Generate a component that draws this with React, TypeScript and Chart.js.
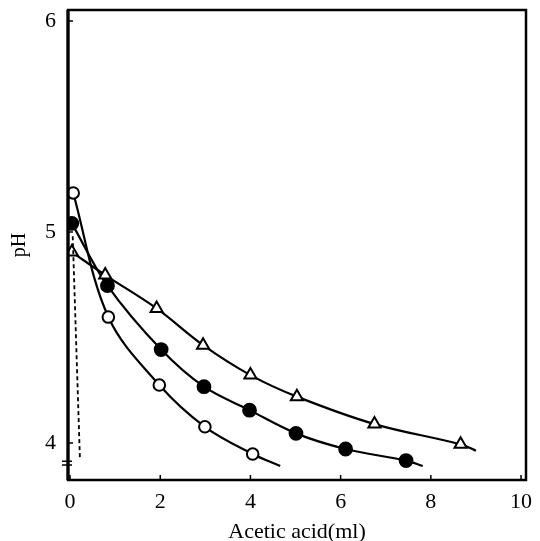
import React, { useEffect, useRef } from "react";
import { Chart, registerables } from "chart.js";

Chart.register(...registerables);

// Open circles
const openX = [0.07, 0.85, 1.98, 2.99, 4.05];
const openPH = [5.185, 4.597, 4.275, 4.077, 3.948];
const openTail = [4.66, 3.891];

// Filled circles
const filledX = [0.04, 0.83, 2.02, 2.97, 3.98, 5.01, 6.11, 7.45];
const filledPH = [5.041, 4.746, 4.443, 4.267, 4.156, 4.046, 3.972, 3.917];
const filledTail = [7.82, 3.891];

// Triangles
const triX = [0.04, 0.78, 1.92, 2.95, 4.0, 5.03, 6.75, 8.66];
const triPH = [4.905, 4.796, 4.638, 4.464, 4.322, 4.22, 4.09, 3.994];
const triTail = [9.0, 3.964];

// Dashed line
const dashX = [0.06, 0.22];
const dashPH = [4.98, 3.92];

const xTicks = [0, 2, 4, 6, 8, 10];
const yTicks = [4, 5, 6];
const BREAK_AT = 3.905;

const FONT = "'Liberation Serif', 'DejaVu Serif', serif";

function series(xs: number[], ys: number[], tail: number[] | null) {
  const pts = xs.map((x, i) => ({ x, y: ys[i] }));
  if (tail) pts.push({ x: tail[0], y: tail[1] });
  return pts;
}

function radii(n: number, r: number, withTail: boolean) {
  const a = new Array(n).fill(r);
  if (withTail) a.push(0);
  return a;
}

const framePlugin = {
  id: "frame",
  afterDraw(chart: any) {
    const { ctx, chartArea: a, scales } = chart;
    ctx.save();
    ctx.strokeStyle = "#000";
    // inward ticks
    ctx.lineWidth = 1.5;
    ctx.beginPath();
    xTicks.forEach((v) => {
      const px = scales.x.getPixelForValue(v);
      ctx.moveTo(px, a.bottom);
      ctx.lineTo(px, a.bottom - 5);
    });
    yTicks.forEach((v) => {
      const py = scales.y.getPixelForValue(v);
      ctx.moveTo(a.left, py);
      ctx.lineTo(a.left + 5, py);
    });
    ctx.stroke();
    // frame
    ctx.lineWidth = 2.5;
    ctx.strokeRect(a.left, a.top, a.right - a.left, a.bottom - a.top);
    ctx.lineWidth = 3.2;
    ctx.beginPath();
    ctx.moveTo(a.left, a.top);
    ctx.lineTo(a.left, a.bottom);
    ctx.stroke();
    // axis break marks
    const by = scales.y.getPixelForValue(BREAK_AT);
    ctx.lineWidth = 1.5;
    ctx.beginPath();
    ctx.moveTo(a.left - 6, by - 1.8);
    ctx.lineTo(a.left + 4, by - 1.8);
    ctx.moveTo(a.left - 6, by + 1.8);
    ctx.lineTo(a.left + 4, by + 1.8);
    ctx.stroke();
    ctx.restore();
  },
};

export default function App() {
  const ref = useRef<HTMLCanvasElement | null>(null);

  useEffect(() => {
    if (!ref.current) return;
    const lineBase = {
      borderColor: "#000",
      borderWidth: 2.2,
      pointBorderColor: "#000",
      pointBorderWidth: 2,
      tension: 0.35,
      fill: false,
    };
    const chart = new Chart(ref.current, {
      type: "line",
      data: {
        datasets: [
          {
            ...lineBase,
            label: "dashed",
            data: series(dashX, dashPH, null),
            borderDash: [4, 3],
            borderWidth: 1.8,
            pointRadius: 0,
            tension: 0,
          } as any,
          {
            ...lineBase,
            label: "triangle",
            data: series(triX, triPH, triTail),
            pointStyle: "triangle",
            pointRadius: radii(triX.length, 7, true),
            pointBackgroundColor: "#fff",
          },
          {
            ...lineBase,
            label: "filled",
            data: series(filledX, filledPH, filledTail),
            pointStyle: "circle",
            pointRadius: radii(filledX.length, 6.4, true),
            pointBackgroundColor: "#000",
          },
          {
            ...lineBase,
            label: "open",
            data: series(openX, openPH, openTail),
            pointStyle: "circle",
            pointRadius: radii(openX.length, 5.8, true),
            pointBackgroundColor: "#fff",
          },
        ],
      },
      options: {
        animation: false,
        responsive: false,
        events: [],
        layout: { padding: { top: 10, right: 14, bottom: 0, left: 0 } },
        plugins: {
          legend: { display: false },
          tooltip: { enabled: false },
        },
        scales: {
          x: {
            type: "linear",
            min: -0.045,
            max: 10.11,
            afterBuildTicks: (s: any) => {
              s.ticks = xTicks.map((v) => ({ value: v }));
            },
            afterFit: (s: any) => {
              s.height = 61;
              s.paddingLeft = 0;
              s.paddingRight = 0;
            },
            grid: { display: false, drawTicks: false },
            border: { display: false },
            ticks: {
              color: "#000",
              padding: 9,
              maxRotation: 0,
              autoSkip: false,
              font: { family: FONT, size: 22 },
            },
            title: {
              display: true,
              text: "Acetic acid(ml)",
              color: "#000",
              font: { family: FONT, size: 22, lineHeight: 0.8 },
              padding: { top: 0, bottom: 0 },
            },
          },
          y: {
            type: "linear",
            min: 3.825,
            max: 6.052,
            afterBuildTicks: (s: any) => {
              s.ticks = yTicks.map((v) => ({ value: v }));
            },
            afterFit: (s: any) => {
              s.width = 68;
              s.paddingTop = 0;
              s.paddingBottom = 0;
            },
            grid: { display: false, drawTicks: false },
            border: { display: false },
            ticks: {
              color: "#000",
              padding: 12,
              autoSkip: false,
              font: { family: FONT, size: 22 },
            },
            title: {
              display: true,
              text: "pH",
              color: "#000",
              font: { family: FONT, size: 20 },
              padding: { top: 8, bottom: 0 },
            },
          },
        },
      },
      plugins: [framePlugin],
    });
    return () => chart.destroy();
  }, []);

  return (
    <div style={{ position: "fixed", left: 0, top: 0, width: 540, height: 541, background: "#fff" }}>
      <canvas ref={ref} width={540} height={541} style={{ display: "block" }} />
    </div>
  );
}
